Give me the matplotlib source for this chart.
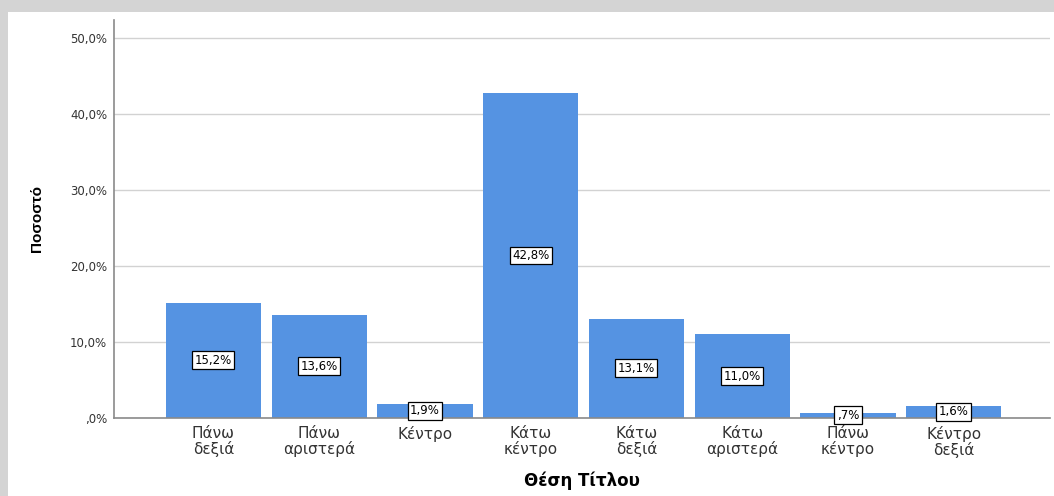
#!/usr/bin/env python3
# -*- coding: utf-8 -*-

import matplotlib
matplotlib.use('Agg')
import matplotlib.pyplot as plt
from matplotlib.patches import Rectangle

#------------------------------------------------------------------------------
# Data
#------------------------------------------------------------------------------
categories = ['Πάνω\nδεξιά', 'Πάνω\nαριστερά', 'Κέντρο', 'Κάτω\nκέντρο',
              'Κάτω\nδεξιά', 'Κάτω\nαριστερά', 'Πάνω\nκέντρο', 'Κέντρο\nδεξιά']
percent    = [15.2, 13.6, 1.9, 42.8, 13.1, 11.0, 0.7, 1.6]
bar_labels = ['15,2%', '13,6%', '1,9%', '42,8%', '13,1%', '11,0%', ',7%', '1,6%']
y_ticks        = [0, 10, 20, 30, 40, 50]
y_tick_labels  = [',0%', '10,0%', '20,0%', '30,0%', '40,0%', '50,0%']

#------------------------------------------------------------------------------
# Main
#------------------------------------------------------------------------------
def main():

  # Font
  plt.rcParams['font.family'] = ['DejaVu Sans']

  # Make new window
  fig = plt.figure(figsize = (10.54, 4.96), dpi = 100)
  fig.patch.set_facecolor('#d4d4d4')

  # White card with shadow border
  fig.patches.append(Rectangle((8 / 1054, 0), 1.0, (496 - 12) / 496,
                               transform = fig.transFigure,
                               facecolor = 'white', edgecolor = 'none',
                               zorder = -10))

  ax = fig.add_axes([114 / 1054, (496 - 418) / 496,
                     (1050 - 114) / 1054, (418 - 20) / 496])
  ax.set_facecolor('none')

  # Plot
  positions = list(range(len(categories)))
  ax.bar(positions, percent, width = 0.9, color = '#5593e2', zorder = 2)

  for pos, value, text in zip(positions, percent, bar_labels):
    ax.text(pos, value / 2.0, text, ha = 'center', va = 'center',
            fontsize = 8.5, color = 'black', zorder = 3,
            bbox = dict(boxstyle = 'square,pad=0.2', facecolor = 'white',
                        edgecolor = 'black', linewidth = 0.9))

  # Axes limits
  ax.set_xlim(-0.94, 7.91)
  ax.set_ylim(0, 52.4)

  # Ticks
  ax.set_yticks(y_ticks)
  ax.set_yticklabels(y_tick_labels, fontsize = 8.5, color = '#333333')
  ax.set_xticks(positions)
  ax.set_xticklabels(categories, fontsize = 11, color = '#333333',
                     linespacing = 0.95)
  ax.tick_params(axis = 'both', length = 0)
  ax.tick_params(axis = 'y', pad = 5)
  ax.tick_params(axis = 'x', pad = 6)

  # Grid
  ax.grid(axis = 'y', color = '#d2d2d2', linewidth = 1.0, zorder = 1)
  ax.set_axisbelow(True)

  # Spines
  ax.spines['top'].set_visible(False)
  ax.spines['right'].set_visible(False)
  ax.spines['left'].set_color('#8a8a8a')
  ax.spines['bottom'].set_color('#8a8a8a')
  ax.spines['left'].set_linewidth(1.2)
  ax.spines['bottom'].set_linewidth(1.2)

  # Set axes label
  ax.set_xlabel('Θέση Τίτλου', fontsize = 12, fontweight = 'bold',
                labelpad = 10)
  ax.set_ylabel('Ποσοστό', fontsize = 11, fontweight = 'bold',
                family = 'Liberation Sans', labelpad = 19)

  # Save figure
  fig.savefig('out.png', dpi = 100, facecolor = fig.get_facecolor())

  # Close figure
  plt.close()
#------------------------------------------------------------------------------

#------------------------------------------------------------------------------
# Call main
#------------------------------------------------------------------------------
if __name__ == '__main__':
  main()
#------------------------------------------------------------------------------
